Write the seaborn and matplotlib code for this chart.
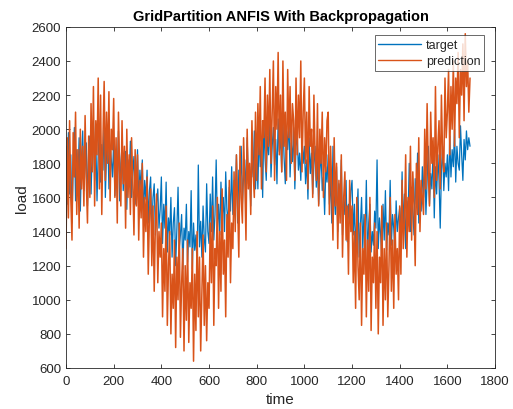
import numpy as np
import pandas as pd
import matplotlib
matplotlib.use("Agg")
import matplotlib.pyplot as plt
import seaborn as sns

# valores, um ponto a cada 5 unidades de tempo (20 por linha = 100 unidades)
passo = 5

target = [
    1900, 1560, 1980, 1620, 1850, 1450, 1790, 2010, 1580, 1880, 1700, 1950, 1520, 1830, 1990, 1640, 1780, 1920, 1550, 1870,
    1960, 1620, 1880, 2050, 1700, 1930, 1580, 1850, 2000, 1690, 1910, 1760, 2040, 1600, 1870, 1980, 1650, 1900, 1820, 1720,
    1940, 1610, 1850, 1720, 1990, 1580, 1800, 1900, 1640, 1760, 1870, 1530, 1820, 1690, 1930, 1600, 1750, 1840, 1560, 1710,
    1880, 1560, 1760, 1650, 1820, 1480, 1700, 1590, 1760, 1450, 1640, 1720, 1400, 1600, 1680, 1380, 1570, 1650, 1420, 1530,
    1720, 1330, 1560, 1420, 1690, 1280, 1480, 1380, 1600, 1250, 1450, 1540, 1200, 1410, 1660, 1300, 1380, 1500, 1180, 1420,
    1350, 1560, 1220, 1400, 1310, 1640, 1180, 1450, 1290, 1380, 1200, 1790, 1310, 1460, 1250, 1550, 1360, 1280, 1680, 1400,
    1330, 1620, 1400, 1720, 1350, 1500, 1820, 1420, 1560, 1380, 1690, 1480, 1600, 1400, 1750, 1530, 1450, 1660, 1520, 1780,
    1500, 1700, 1580, 1850, 1450, 1760, 1640, 1900, 1560, 1730, 1820, 1600, 1950, 1680, 1780, 1550, 1880, 1720, 1990, 1650,
    1880, 1650, 2000, 1780, 1920, 1600, 2050, 1830, 1700, 1960, 1850, 2080, 1720, 1900, 2010, 1790, 1940, 1680, 2060, 1870,
    1960, 1750, 2040, 1830, 1680, 1990, 1880, 2070, 1720, 1920, 1810, 2010, 1650, 1900, 1970, 1760, 1860, 1700, 1940, 1800,
    1900, 1680, 1820, 1590, 1950, 1740, 1860, 1620, 1790, 1900, 1660, 1810, 1560, 1750, 1870, 1640, 1720, 1500, 1780, 1690,
    1850, 1560, 1720, 1450, 1900, 1620, 1500, 1780, 1400, 1680, 1580, 1820, 1380, 1600, 1500, 1700, 1340, 1560, 1460, 1640,
    1700, 1380, 1560, 1290, 1480, 1650, 1250, 1420, 1600, 1300, 1500, 1360, 1700, 1240, 1450, 1560, 1280, 1400, 1320, 1520,
    1420, 1820, 1300, 1480, 1380, 1250, 1560, 1350, 1640, 1290, 1450, 1380, 1700, 1320, 1500, 1420, 1260, 1580, 1400, 1480,
    1540, 1350, 1750, 1420, 1620, 1300, 1580, 1480, 1800, 1400, 1660, 1520, 1380, 1710, 1560, 1860, 1450, 1640, 1520, 1780,
    1600, 1820, 1500, 1700, 1900, 1560, 1740, 1650, 1880, 1480, 1780, 1620, 1850, 1700, 1420, 1760, 1900, 1640, 1800, 1720,
    1850, 1640, 1960, 1720, 1880, 1780, 2000, 1690, 1900, 1800, 1760, 2020, 1850, 1700, 1940, 1820, 1990, 1880, 1950, 1900,
]

prediction = [
    1300, 1950, 1480, 2050, 1600, 1350, 1980, 1720, 2100, 1500, 1880, 1420, 2000, 1650, 1900, 1550, 2080, 1700, 1450, 1960,
    1600, 2150, 1750, 2250, 1550, 2050, 1850, 2300, 1650, 2200, 1500, 1950, 2280, 1700, 2100, 1800, 2220, 1580, 2000, 1880,
    2180, 1600, 1950, 1450, 2100, 1750, 1550, 2050, 1680, 1900, 1420, 2000, 1600, 1850, 1500, 1950, 1700, 1380, 1880, 1550,
    1850, 1350, 1700, 1480, 1800, 1250, 1600, 1400, 1720, 1150, 1500, 1650, 1200, 1550, 1050, 1450, 1620, 1100, 1400, 1250,
    1450, 900, 1300, 1050, 1550, 850, 1200, 1400, 800, 1150, 950, 1350, 720, 1250, 1000, 1450, 780, 1100, 1300, 700,
    1200, 880, 1350, 750, 1100, 950, 1300, 640, 1150, 820, 1400, 900, 1250, 700, 1050, 1380, 850, 1200, 760, 1100,
    950, 1450, 1100, 1550, 850, 1300, 1200, 1600, 950, 1400, 1050, 1650, 1150, 1350, 900, 1500, 1250, 1700, 1100, 1450,
    1300, 1750, 1400, 1850, 1550, 1250, 1900, 1600, 1450, 1950, 1700, 1350, 2000, 1650, 1800, 1500, 2050, 1750, 1600, 2100,
    1700, 2150, 1850, 2250, 1650, 2050, 1950, 2300, 1750, 2200, 1900, 2350, 1800, 2100, 2400, 1700, 2250, 2000, 2450, 1850,
    2200, 1750, 2400, 1900, 2100, 1700, 2350, 1950, 2250, 1800, 2150, 2050, 1700, 2300, 1850, 2200, 1950, 2400, 1750, 2100,
    2300, 1800, 2100, 1650, 2250, 1900, 2000, 1600, 2200, 1850, 1700, 2150, 1550, 2000, 1800, 2100, 1600, 1950, 1750, 2050,
    2100, 1500, 1900, 1650, 1350, 1950, 1550, 1800, 1300, 1700, 1450, 1850, 1250, 1600, 1750, 1350, 1550, 1150, 1700, 1400,
    1550, 1100, 1400, 950, 1600, 1200, 1000, 1450, 850, 1300, 1150, 1500, 900, 1350, 1050, 1600, 820, 1250, 1100, 1450,
    950, 1400, 800, 1250, 1100, 1550, 850, 1300, 1000, 1450, 900, 1200, 1600, 1050, 1350, 950, 1500, 1150, 1300, 1000,
    1550, 1150, 1700, 1300, 1450, 1850, 1250, 1600, 1400, 1900, 1350, 1750, 1550, 1200, 1800, 1500, 1950, 1400, 1700, 1600,
    1500, 2000, 1650, 2150, 1750, 1550, 2100, 1800, 1950, 1600, 2250, 1700, 1900, 2050, 1650, 2200, 1850, 1750, 2300, 1950,
    2100, 2350, 1850, 2250, 2000, 2400, 1900, 2300, 2150, 2450, 1950, 2350, 2200, 2500, 2050, 2560, 2250, 2400, 2100, 2300,
]

xticks = [0, 200, 400, 600, 800, 1000, 1200, 1400, 1600, 1800]
yticks = [600, 800, 1000, 1200, 1400, 1600, 1800, 2000, 2200, 2400, 2600]

cor_target = "#0072BD"
cor_pred = "#D95319"
cinza = "#262626"

tempo = np.arange(len(target)) * passo
df = pd.DataFrame({"time": tempo, "target": target, "prediction": prediction})

sns.set_style("white")
plt.rcParams["font.family"] = ["Liberation Sans", "DejaVu Sans"]

fig = plt.figure(figsize=(5.13, 4.10), dpi=100)
ax = fig.add_axes([0.1287, 0.10, 0.8363, 0.832])

sns.lineplot(data=df, x="time", y="target", ax=ax, color=cor_target, linewidth=0.9,
             estimator=None, label="target")
sns.lineplot(data=df, x="time", y="prediction", ax=ax, color=cor_pred, linewidth=1.1,
             estimator=None, label="prediction")

ax.set_xlim(0, 1800)
ax.set_ylim(600, 2600)
ax.set_xticks(xticks)
ax.set_yticks(yticks)
ax.tick_params(direction="in", length=3, width=0.6, colors=cinza, labelsize=9.5,
               top=True, right=True, bottom=True, left=True)
ax.tick_params(axis="x", pad=5)
for s in ax.spines.values():
    s.set_color(cinza)
    s.set_linewidth(0.6)

ax.set_title("GridPartition ANFIS With Backpropagation", fontsize=10.5, fontweight="bold",
             color="black", pad=5)
ax.set_xlabel("time", fontsize=11, color=cinza, labelpad=4)
ax.set_ylabel("load", fontsize=11, color=cinza, labelpad=2)

leg = ax.legend(loc="upper right", bbox_to_anchor=(0.975, 0.975), fontsize=9, frameon=True,
                fancybox=False, edgecolor=cinza, handlelength=3.4, borderpad=0.3,
                labelspacing=0.3, handletextpad=0.4, borderaxespad=0)
leg.get_frame().set_linewidth(0.6)
for l in leg.get_lines():
    l.set_linewidth(1.0)

fig.savefig("out.png", dpi=100)
